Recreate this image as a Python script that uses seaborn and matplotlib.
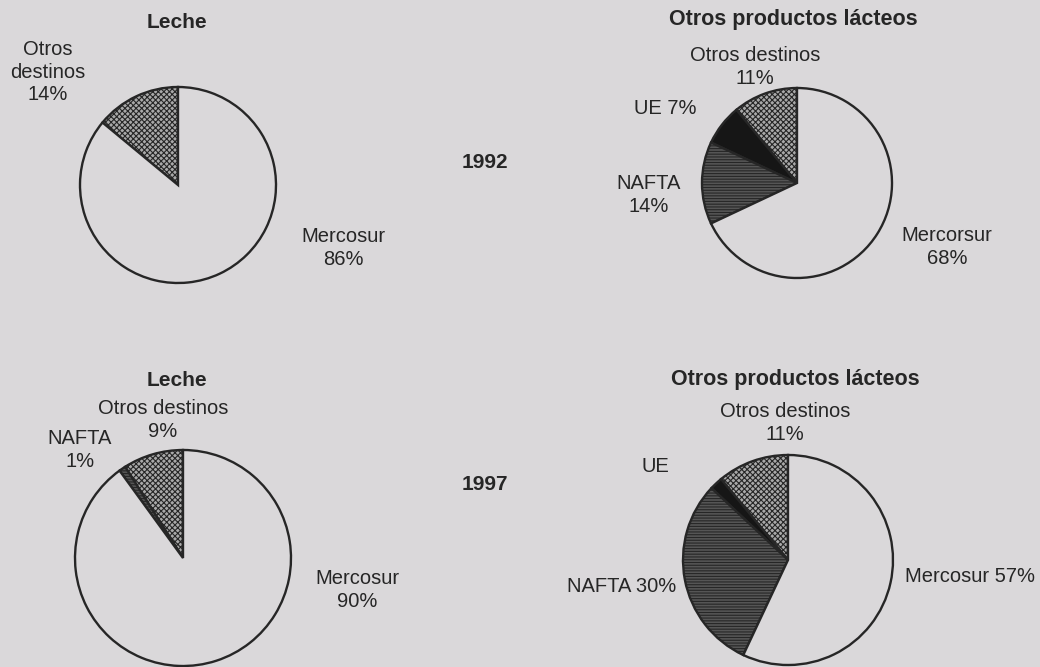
import numpy as np
import matplotlib.pyplot as plt
import seaborn as sns

# shares of exports by destination (%)
leche_1992_dest = ['Otros destinos', 'Mercosur']
leche_1992_pct = [14, 86]
otros_1992_dest = ['Otros destinos', 'UE', 'NAFTA', 'Mercosur']
otros_1992_pct = [11, 7, 14, 68]
leche_1997_dest = ['Otros destinos', 'NAFTA', 'Mercosur']
leche_1997_pct = [9, 1, 90]
otros_1997_dest = ['Otros destinos', 'UE', 'NAFTA', 'Mercosur']
otros_1997_pct = [11, 2, 30, 57]

# label texts as printed in the original
leche_1992_labels = ['Otros\ndestinos\n14%', 'Mercosur\n86%']
otros_1992_labels = ['Otros destinos\n11%', 'UE 7%', 'NAFTA\n14%', 'Mercorsur\n68%']
leche_1997_labels = ['Otros destinos\n9%', 'NAFTA\n1%', 'Mercosur\n90%']
otros_1997_labels = ['Otros destinos\n11%', 'UE', 'NAFTA 30%', 'Mercosur 57%']

titles = ['Leche', 'Otros productos lácteos']
years = ['1992', '1997']

sns.set_theme(style='white')
plt.rcParams['font.family'] = ['Liberation Sans', 'DejaVu Sans']
plt.rcParams['hatch.linewidth'] = 0.8

bg = '#dad8da'
ink = '#262626'
styles = {
    'Otros destinos': dict(fc='#a9a9a9', hatch='xxxxxx'),
    'UE': dict(fc='#161616', hatch=None),
    'NAFTA': dict(fc='#555555', hatch='------'),
    'Mercosur': dict(fc=bg, hatch=None),
}

W, H = 1040, 667
fig = plt.figure(figsize=(W / 100, H / 100), dpi=100, facecolor=bg)


def px(x, y):
    return x / W, 1 - y / H


def draw_pie(dest, pct, cx, cy, r):
    pad = 1.05
    ax = fig.add_axes([(cx - r * pad) / W, 1 - (cy + r * pad) / H,
                       2 * r * pad / W, 2 * r * pad / H])
    wedges, _ = ax.pie(pct, startangle=90, counterclock=True,
                       wedgeprops=dict(linewidth=1.7, edgecolor=ink))
    for w, d in zip(wedges, dest):
        st = styles[d]
        w.set_facecolor(st['fc'])
        if st['hatch']:
            w.set_hatch(st['hatch'])
    ax.set_xlim(-pad, pad)
    ax.set_ylim(-pad, pad)
    ax.axis('off')
    return ax


def label(x, y, s, size=14.5, **kw):
    kw.setdefault('ha', 'center')
    fig.text(*px(x, y), s, va='center', fontsize=size, color=ink,
             linespacing=1.25, zorder=-1, **kw)


# 1992
draw_pie(leche_1992_dest, leche_1992_pct, 178, 185, 98)
label(177, 22, titles[0], size=15, fontweight='bold')
label(48, 72, leche_1992_labels[0])
label(343, 248, leche_1992_labels[1])

draw_pie(otros_1992_dest, otros_1992_pct, 797, 183, 95)
label(793, 20, titles[1], size=15.5, fontweight='bold')
label(755, 67, otros_1992_labels[0])
label(665, 108, otros_1992_labels[1])
label(649, 195, otros_1992_labels[2])
label(947, 247, otros_1992_labels[3])

label(485, 163, years[0], size=15, fontweight='bold')

# 1997
draw_pie(leche_1997_dest, leche_1997_pct, 183, 558, 108)
label(177, 380, titles[0], size=15, fontweight='bold')
label(163, 420, leche_1997_labels[0])
label(80, 450, leche_1997_labels[1])
label(357, 590, leche_1997_labels[2])

draw_pie(otros_1997_dest, otros_1997_pct, 788, 560, 105)
label(795, 380, titles[1], size=15.5, fontweight='bold')
label(785, 423, otros_1997_labels[0])
label(655, 466, otros_1997_labels[1])
label(567, 587, otros_1997_labels[2], ha='left')
label(970, 577, otros_1997_labels[3])

label(485, 485, years[1], size=15, fontweight='bold')

fig.savefig('out.png', dpi=100, facecolor=bg)
